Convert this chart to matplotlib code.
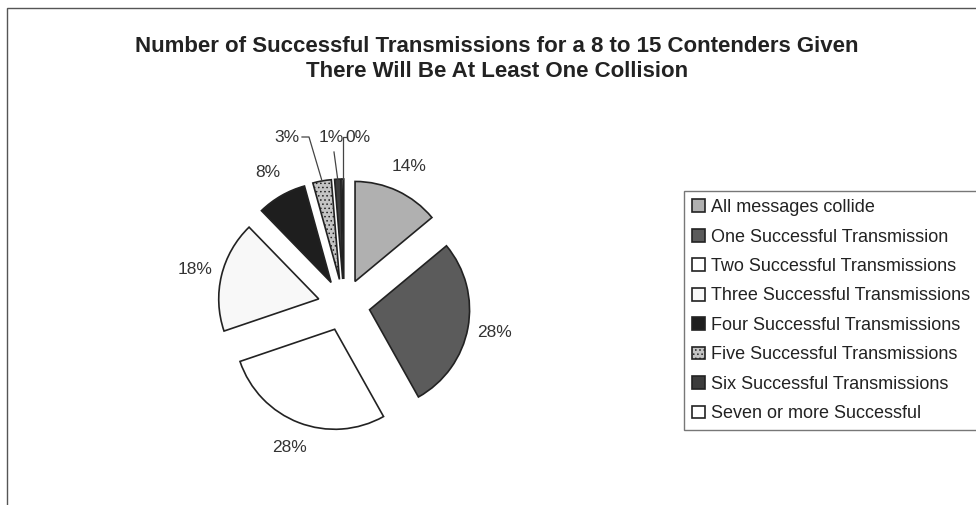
import matplotlib
matplotlib.use("Agg")
import matplotlib.pyplot as plt
import numpy as np
from matplotlib.patches import Rectangle
from matplotlib.lines import Line2D

# ---- data ----
categories = [
    "All messages collide",
    "One Successful Transmission",
    "Two Successful Transmissions",
    "Three Successful Transmissions",
    "Four Successful Transmissions",
    "Five Successful Transmissions",
    "Six Successful Transmissions",
    "Seven or more Successful",
]
values = [14, 28, 28, 18, 8, 3, 1, 0.3]
title_lines = ["Number of Successful Transmissions for a 8 to 15 Contenders Given",
               "There Will Be At Least One Collision"]

# ---- style ----
colors = ["#b0b0b0", "#5b5b5b", "#ffffff", "#f8f8f8", "#1e1e1e", "#c4c4c4", "#3c3c3c", "#ffffff"]
hatches = [None, None, None, None, None, "....", None, None]

plt.rcParams['font.family'] = ['Liberation Sans', 'DejaVu Sans']
plt.rcParams['hatch.linewidth'] = 0.6

W, H = 976, 505
fig = plt.figure(figsize=(W / 100, H / 100), dpi=100)


def px_axes(left, top, w, h):
    return fig.add_axes([left / W, 1 - (top + h) / H, w / W, h / H])


# outer chart frame (right and bottom edges fall outside the picture)
fig.patches.append(Rectangle((7 / W, 1 - 520 / H), (1000 - 7) / W, (520 - 8) / H,
                             transform=fig.transFigure, fill=False,
                             edgecolor="#555555", linewidth=1.0))

# title
fig.text(497 / W, 1 - 59 / H, "\n".join(title_lines), ha="center", va="center",
         fontsize=16, fontweight="bold", color="#222222", linespacing=1.25)

# pie
cx, cy, R = 344, 305, 100
ax = px_axes(cx - 1.5 * R, cy - 1.5 * R, 3 * R, 3 * R)
wedges, texts, autotexts = ax.pie(
    values, colors=colors, startangle=90, counterclock=False,
    explode=[0.26] * len(values), radius=1.0, normalize=True,
    autopct="%1.0f%%", pctdistance=1.27,
    wedgeprops=dict(edgecolor="#222222", linewidth=1.2),
    textprops=dict(fontsize=12.5, color="#333333"))
ax.set_xlim(-1.5, 1.5)
ax.set_ylim(-1.5, 1.5)
ax.set_aspect("equal")
ax.axis("off")
for w, h in zip(wedges, hatches):
    if h:
        w.set_hatch(h)

# small slice labels moved above the pie with leader lines
small_pos = {5: (-0.57, 1.68), 6: (-0.13, 1.68), 7: (0.14, 1.68)}
for i, (tx, ty) in small_pos.items():
    autotexts[i].set_position((tx, ty))
    w = wedges[i]
    mid = np.deg2rad((w.theta1 + w.theta2) / 2)
    ox = w.center[0] + w.r * np.cos(mid)
    oy = w.center[1] + w.r * np.sin(mid)
    if i == 5:
        xs, ys = [tx + 0.15, tx + 0.22, ox], [ty, ty, oy]
    elif i == 6:
        xs, ys = [tx + 0.03, ox], [ty - 0.15, oy]
    else:
        xs, ys = [tx - 0.12, ox, ox], [ty, ty, oy]
    ax.add_line(Line2D(xs, ys, color="#444444", linewidth=0.9, clip_on=False))

# legend
leg = fig.legend(wedges, categories, loc="upper left",
                 bbox_to_anchor=(684 / W, 1 - 191 / H),
                 fontsize=13, frameon=True, fancybox=False,
                 handlelength=0.7, handleheight=0.7, handletextpad=0.35,
                 labelspacing=0.69, borderpad=0.45, borderaxespad=0.0)
leg.get_frame().set_edgecolor("#555555")
leg.get_frame().set_linewidth(1.0)
for t in leg.get_texts():
    t.set_color("#222222")

fig.savefig("out.png", dpi=100)
